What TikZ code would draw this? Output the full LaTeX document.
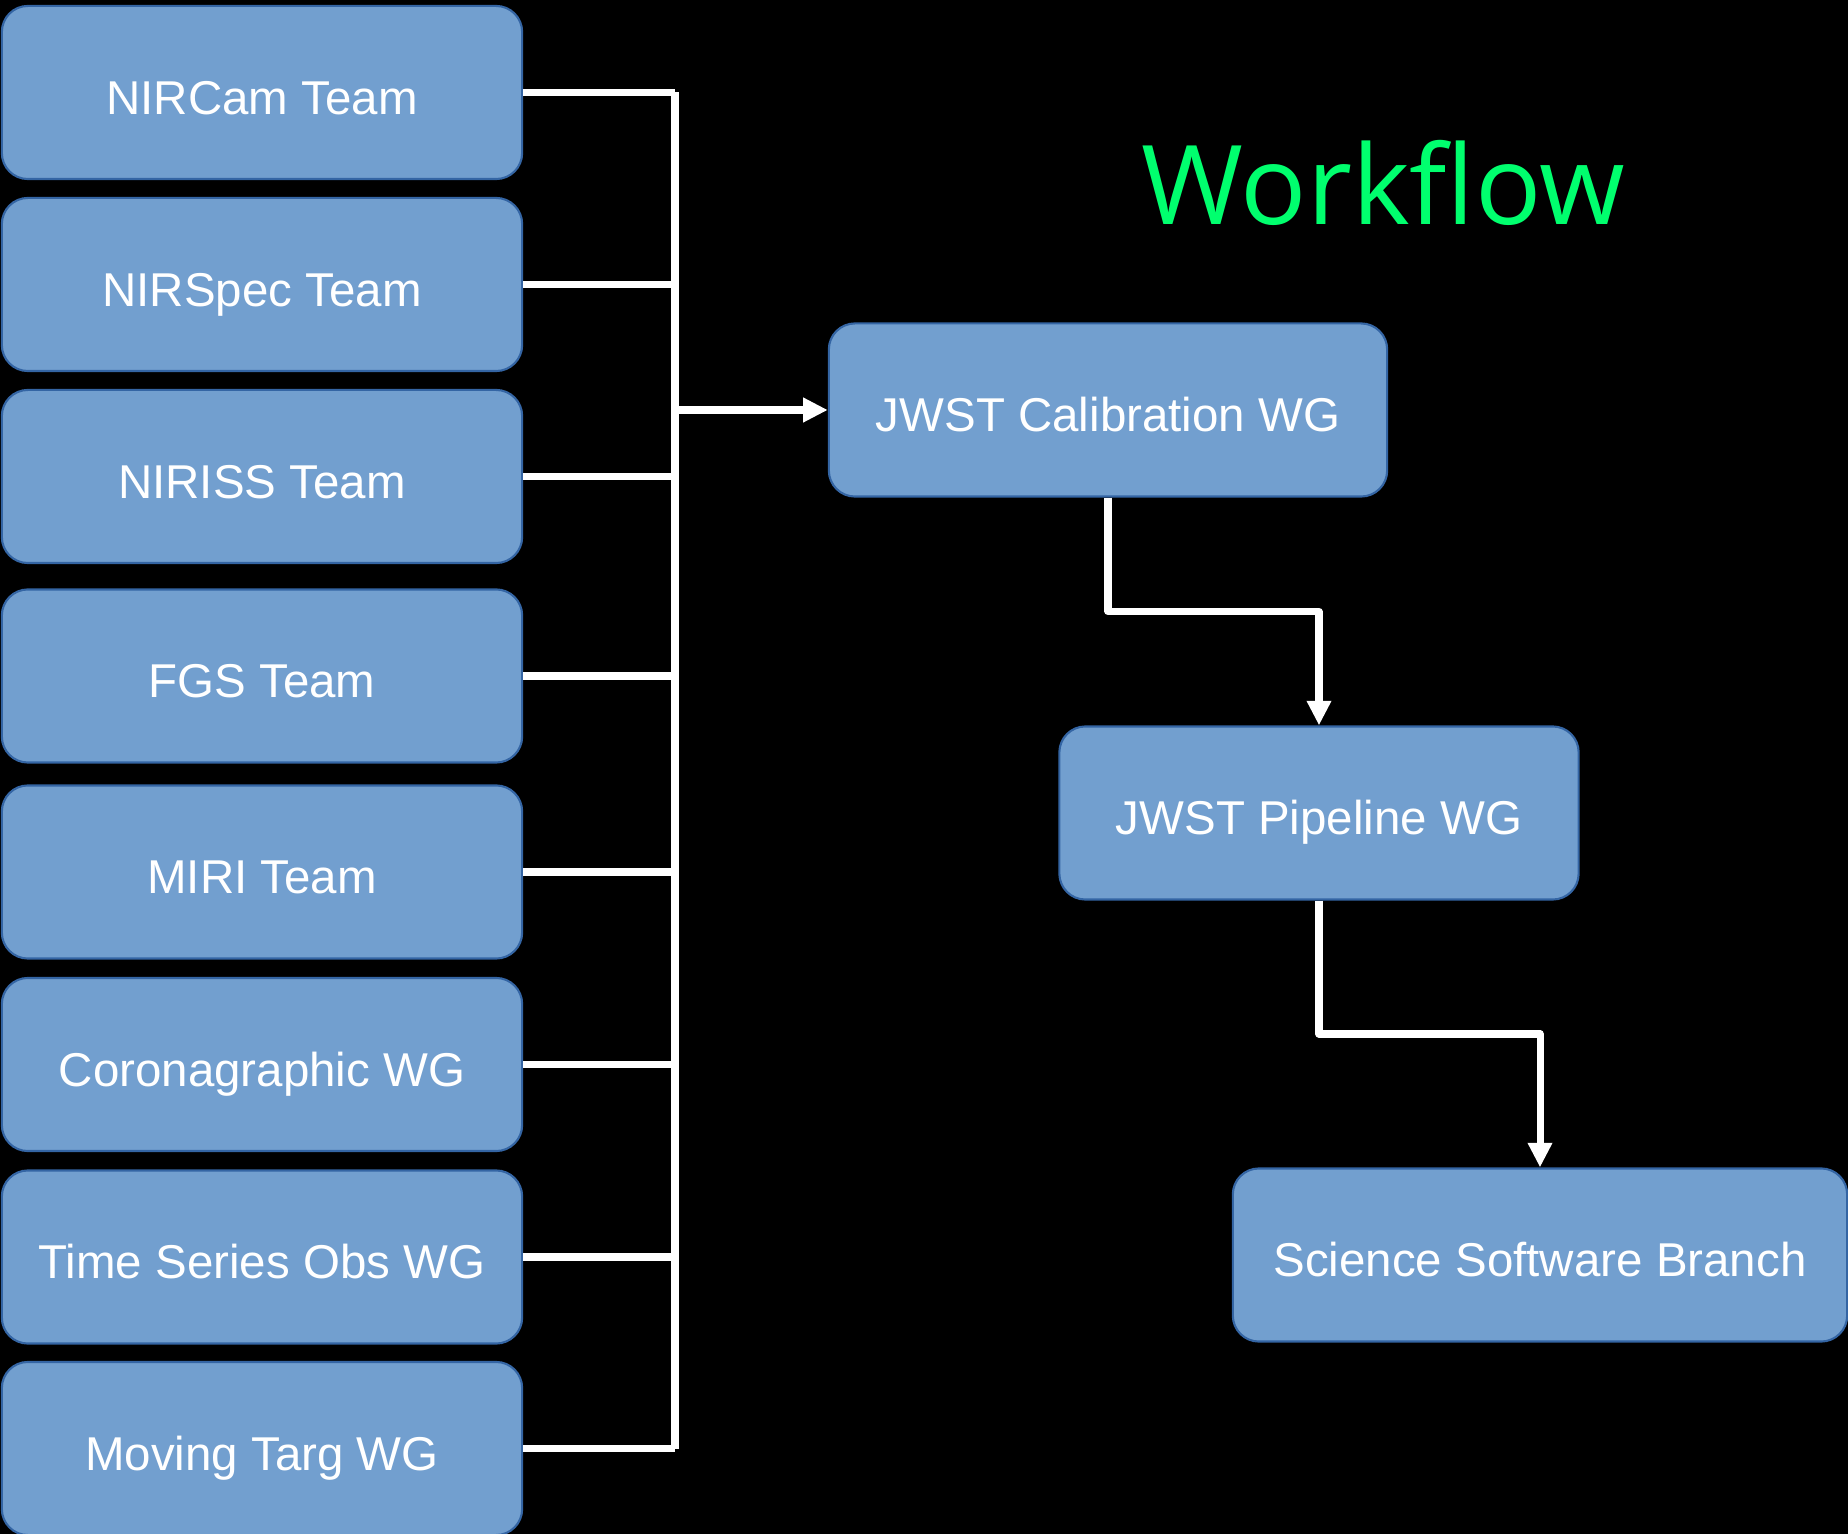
\documentclass[tikz,border=0pt]{standalone}
\usepackage{fontspec}
\setmainfont{Liberation Sans}
\newfontfamily\titlefont{Open Sans}
\usetikzlibrary{arrows.meta,calc}
\definecolor{boxblue}{HTML}{729FCF}
\definecolor{boxedge}{HTML}{3465A4}
\definecolor{titlegreen}{RGB}{0,255,110}
\begin{document}
\begin{tikzpicture}[x=0.01cm,y=-0.01cm,
	box/.style={draw=boxedge,line width=0.6pt,fill=boxblue,rounded corners=0.26cm,
		text=white,font=\fontsize{13.5}{15}\selectfont,text height=1.23em,text depth=0pt,
		inner sep=0pt,minimum height=1.73cm},
	wire/.style={white,line width=2pt,line join=round},
	tip/.style={-{Triangle[length=7pt,width=6.6pt]}}]
		\fill[black] (0,0) rectangle (1848,1534);
		\useasboundingbox (0,0) rectangle (1848,1534);
		%teams and working groups
		\foreach \n/\y/\t in {nircam/92.5/NIRCam Team,nirspec/284.5/NIRSpec Team,
			niriss/476.5/NIRISS Team,fgs/676/FGS Team,miri/872/MIRI Team,
			corona/1064.5/Coronagraphic WG,tso/1257/Time Series Obs WG,
			moving/1448.5/Moving Targ WG}
		\node[box,minimum width=5.2cm] (\n) at (262,\y) {\t};
		\node[box,minimum width=5.58cm] (cal) at (1108,410) {JWST Calibration WG};
		\node[box,minimum width=5.19cm] (pipe) at (1319,813) {JWST Pipeline WG};
		\node[box,minimum width=6.14cm] (ssb) at (1540,1255) {Science Software Branch};
		\node[text=titlegreen,font=\titlefont\fontsize{31.3}{36}\selectfont,anchor=base] (title) at (1383,225) {Workflow};
		%collecting line
		\coordinate (bus) at (675,0);
		\foreach \n in {nircam,nirspec,niriss,fgs,miri,corona,tso,moving}
		\draw[wire] (\n.east) -- (\n.east -| bus);
		\draw[wire] (nircam.east -| bus) -- (moving.east -| bus);
		\draw[wire,tip] (cal.west -| bus) -- (cal.west);
		%down the chain
		\draw[wire,tip] (cal.south) |- ($(cal.south)!.5!(pipe.north)$) -| (pipe.north);
		\draw[wire,tip] (pipe.south) |- ($(pipe.south)!.5!(ssb.north)$) -| (ssb.north);
		\end{tikzpicture}
\end{document}
